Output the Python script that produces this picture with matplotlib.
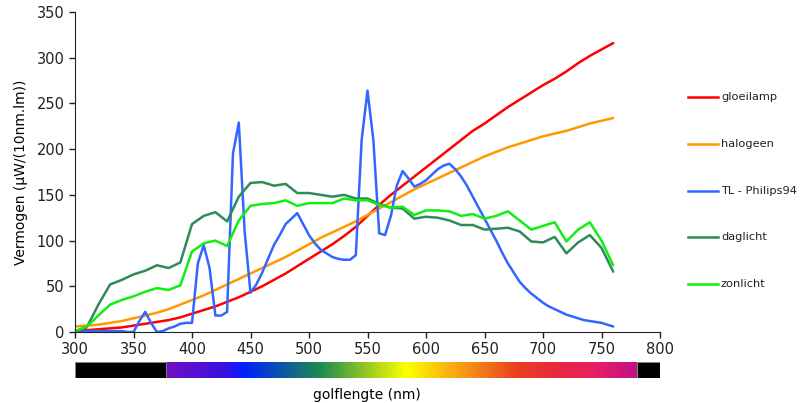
"""
Spectrum of several light sources (power per 10 nm per lumen) with a
visible-light colour band under the wavelength axis.
"""
import matplotlib
matplotlib.use('Agg')
import matplotlib.pyplot as plt
import numpy as np
from matplotlib.colors import LinearSegmentedColormap
from matplotlib.lines import Line2D

# --- Data -----------------------------------------------------------------
nm10 = list(range(300, 770, 10))
nm5 = list(range(300, 765, 5))

gloeilamp = [1, 2, 3, 4, 5, 7, 9, 11, 13, 16, 20, 24, 28, 33, 38, 44, 50, 57,
             64, 72, 80, 88, 96, 105, 115, 127, 139, 150, 160, 170, 180, 190,
             200, 210, 220, 228, 237, 246, 254, 262, 270, 277, 285, 294, 302,
             309, 316]
halogeen = [6, 7, 8, 10, 12, 15, 18, 21, 25, 30, 35, 40, 46, 52, 58, 64, 70,
            76, 82, 89, 96, 103, 109, 115, 121, 128, 135, 142, 149, 156, 162,
            168, 174, 180, 186, 192, 197, 202, 206, 210, 214, 217, 220, 224,
            228, 231, 234]
tl_philips = [0, 0, 1, 1, 1, 1, 1, 1, 1, 0, 0, 12, 22, 10, 0, 1, 4, 6, 9, 10,
              10, 75, 95, 70, 18, 18, 22, 195, 229, 110, 43, 52, 65, 80, 95,
              106, 118, 124, 130, 118, 106, 97, 90, 86, 82, 80, 79, 79, 84,
              210, 264, 210, 108, 106, 127, 160, 176, 168, 159, 162, 166, 172,
              178, 182, 184, 178, 170, 160, 148, 136, 124, 112, 100, 87, 75,
              65, 55, 48, 42, 37, 32, 28, 25, 22, 19, 17, 15, 13, 12, 11, 10,
              8, 6]
daglicht = [1, 5, 30, 52, 57, 63, 67, 73, 70, 76, 118, 127, 131, 121, 148, 163,
            164, 160, 162, 152, 152, 150, 148, 150, 146, 146, 140, 136, 135,
            124, 126, 125, 122, 117, 117, 112, 113, 114, 110, 99, 98, 104, 86,
            98, 106, 92, 66]
zonlicht = [1, 6, 18, 30, 35, 39, 44, 48, 46, 51, 88, 97, 100, 94, 122, 138,
            140, 141, 144, 138, 141, 141, 141, 146, 144, 144, 139, 136, 137,
            128, 133, 133, 132, 127, 129, 124, 127, 132, 122, 112, 116, 120,
            99, 112, 120, 100, 73]

series = [
    ('gloeilamp', nm10, gloeilamp, '#ff0000'),
    ('halogeen', nm10, halogeen, '#ff9900'),
    ('TL - Philips94', nm5, tl_philips, '#3366ff'),
    ('daglicht', nm10, daglicht, '#2e8b57'),
    ('zonlicht', nm10, zonlicht, '#11ee11'),
]

# visible band: wavelength -> colour stops
band_nm = [378, 428, 444, 509, 552, 583, 629, 677, 714, 743, 780]
band_col = ['#7010c0', '#3a10e0', '#0020ff', '#1a8a50', '#a0cc20', '#ffff00',
            '#f8a010', '#e84020', '#e82840', '#e82060', '#c0108a']

W, H = 803, 403
fig = plt.figure(figsize=(W / 100, H / 100), dpi=100, facecolor='white')

ax = fig.add_axes([75 / W, 1 - 332 / H, 585 / W, 320 / H])
for label, x, y, col in series:
    ax.plot(x, y, color=col, lw=1.8, label=label, solid_capstyle='round',
            solid_joinstyle='round')

ax.set_xlim(300, 800)
ax.set_ylim(0, 350)
ax.set_xticks(range(300, 801, 50))
ax.set_yticks(range(0, 351, 50))
ax.tick_params(direction='out', length=4, width=1, labelsize=10.5,
               colors='#222222')
for s in ('top', 'right'):
    ax.spines[s].set_visible(False)
for s in ('left', 'bottom'):
    ax.spines[s].set_color('#222222')
ax.set_ylabel('Vermogen (µW/(10nm.lm))', fontsize=10, labelpad=6)

# --- colour band under the axis -------------------------------------------
cax = fig.add_axes([75 / W, 1 - 378 / H, 585 / W, 16 / H])
pos = [(v - band_nm[0]) / (band_nm[-1] - band_nm[0]) for v in band_nm]
cmap = LinearSegmentedColormap.from_list('spec', list(zip(pos, band_col)))
grad = np.linspace(0, 1, 512).reshape(1, -1)
cax.imshow(grad, aspect='auto', cmap=cmap,
           extent=[band_nm[0], band_nm[-1], 0, 1])
cax.axvspan(300, band_nm[0], color='black', ec='#888888', lw=0.6)
cax.axvspan(band_nm[-1], 800, color='black', ec='#888888', lw=0.6)
cax.set_xlim(300, 800)
cax.set_ylim(0, 1)
cax.axis('off')

fig.text(367 / W, 1 - 395 / H, 'golflengte (nm)', ha='center', va='center',
         fontsize=10)

# --- legend in the right margin -------------------------------------------
for i, (label, _, _, col) in enumerate(series):
    yy = 1 - (97 + i * 46.8) / H
    fig.add_artist(Line2D([688 / W, 718 / W], [yy, yy], color=col, lw=1.8))
    fig.text(721 / W, yy, label, ha='left', va='center', fontsize=8.2,
             color='#222222')

fig.savefig('out.png', dpi=100, facecolor='white')
